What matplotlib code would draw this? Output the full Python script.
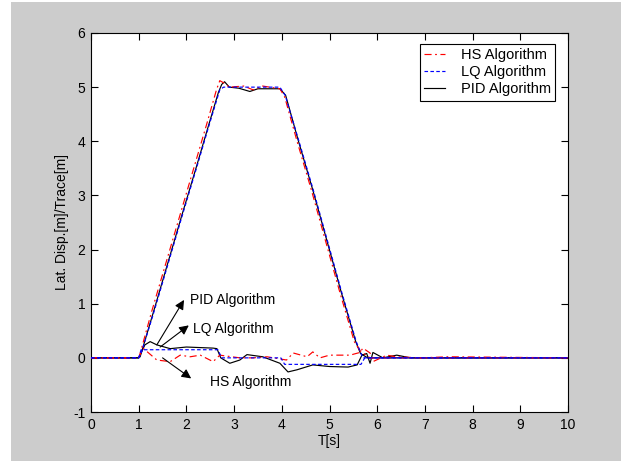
import matplotlib
matplotlib.use("Agg")
import matplotlib.pyplot as plt
from matplotlib.patches import Rectangle

plt.rcParams['font.family'] = ['Liberation Sans', 'DejaVu Sans']
plt.rcParams['axes.unicode_minus'] = False

# Lateral displacement curves
t_pid = [0, 1.0, 1.03, 1.3, 1.6, 1.9, 2.2, 2.45, 2.67, 2.74, 2.8, 2.9, 3.1, 3.33, 3.5, 3.96, 4.08, 4.35, 4.65, 4.95, 5.25, 5.55, 5.65, 5.8, 10.0]
pid_disp = [0, 0, 0.02, 0.82, 1.72, 2.62, 3.5, 4.25, 4.9, 5.05, 5.1, 5.0, 4.98, 4.92, 4.97, 4.97, 4.85, 4.0, 3.1, 2.15, 1.2, 0.3, 0.08, 0.0, 0.0]
t_lq = [0, 1.0, 1.05, 1.31, 1.61, 1.91, 2.21, 2.46, 2.7, 2.78, 3.96, 4.07, 4.36, 4.66, 4.96, 5.26, 5.56, 5.7, 10.0]
lq_disp = [0, 0, 0.08, 0.82, 1.72, 2.62, 3.5, 4.25, 4.95, 5.0, 5.0, 4.85, 4.0, 3.1, 2.15, 1.2, 0.3, 0.0, 0.0]
t_hs = [0, 1.0, 1.02, 1.27, 1.57, 1.87, 2.17, 2.42, 2.63, 2.7, 2.78, 2.9, 3.2, 3.4, 3.6, 3.96, 4.06, 4.32, 4.62, 4.92, 5.22, 5.52, 5.65, 5.85, 10.0]
hs_disp = [0, 0, 0.05, 0.85, 1.75, 2.65, 3.55, 4.3, 4.95, 5.12, 5.08, 5.0, 5.02, 4.95, 5.02, 4.97, 4.82, 4.0, 3.1, 2.15, 1.2, 0.3, 0.12, 0.0, 0.0]

# Tracking errors
t_pid_err = [0, 1.0, 1.13, 1.24, 1.38, 1.66, 2.0, 2.56, 2.64, 2.72, 2.91, 3.12, 3.27, 3.6, 3.96, 4.13, 4.32, 4.65, 5.0, 5.39, 5.58, 5.68, 5.78, 5.85, 5.91, 6.12, 6.41, 6.7, 10.0]
pid_err = [0, 0, 0.24, 0.3, 0.24, 0.17, 0.2, 0.18, 0.17, 0.0, -0.1, -0.04, 0.06, 0.02, -0.1, -0.26, -0.22, -0.13, -0.16, -0.17, -0.13, 0.05, 0.08, -0.1, 0.1, 0.0, 0.05, 0.0, 0.0]
t_lq_err = [0, 1.0, 1.05, 2.66, 2.74, 3.98, 4.06, 5.66, 5.74, 10.0]
lq_err = [0, 0, 0.15, 0.15, 0.0, 0.0, -0.12, -0.12, 0.0, 0.0]
t_hs_err = [0, 1.0, 1.09, 1.38, 1.66, 1.87, 2.08, 2.29, 2.56, 2.7, 3.12, 3.4, 3.69, 4.1, 4.24, 4.53, 4.65, 4.8, 5.0, 5.43, 5.64, 5.7, 5.85, 5.91, 6.2, 6.4, 6.9, 7.5, 10.0]
hs_err = [0, 0, 0.18, -0.04, -0.07, 0.05, 0.02, 0.05, -0.07, 0.05, 0.0, 0.0, 0.02, -0.04, 0.09, 0.02, 0.11, 0.0, 0.05, 0.05, 0.1, 0.18, 0.09, -0.07, 0.05, 0.02, 0.0, 0.02, 0.0]

x_ticks = [0, 1, 2, 3, 4, 5, 6, 7, 8, 9, 10]
y_ticks = [-1, 0, 1, 2, 3, 4, 5, 6]

fig = plt.figure(figsize=(6.21, 4.61), dpi=100)
fig.patch.set_facecolor('white')
fig.patches.append(Rectangle((11 / 621, 0), 1 - 11 / 621, 1 - 2 / 461,
                             transform=fig.transFigure, facecolor='#cccccc',
                             edgecolor='none', zorder=-10))
ax = fig.add_axes([91 / 621, 1 - 412 / 461, (568 - 91) / 621, (412 - 33) / 461])
ax.set_facecolor('white')

red_ls = (0, (6, 3, 1.5, 3))
blue_ls = (0, (3, 2))
lw = 0.85
l1, = ax.plot(t_hs, hs_disp, color='red', ls=red_ls, lw=lw, label='HS Algorithm', zorder=3)
l2, = ax.plot(t_lq, lq_disp, color='blue', ls=blue_ls, lw=lw, label='LQ Algorithm', zorder=4)
l3, = ax.plot(t_pid, pid_disp, color='black', ls='-', lw=lw, label='PID Algorithm', zorder=2)
ax.plot(t_hs_err, hs_err, color='red', ls=red_ls, lw=lw, zorder=3)
ax.plot(t_lq_err, lq_err, color='blue', ls=blue_ls, lw=lw, zorder=4)
ax.plot(t_pid_err, pid_err, color='black', ls='-', lw=lw, zorder=2)

ax.set_xlim(0, 10)
ax.set_ylim(-1, 6)
ax.set_xticks(x_ticks)
ax.set_yticks(y_ticks)
ax.tick_params(direction='in', top=True, right=True, labelsize=10, length=5, pad=4)
ax.set_xlabel('T[s]', fontsize=10, labelpad=2)
ax.set_ylabel('Lat. Disp.[m]/Trace[m]', fontsize=10, labelpad=3)
for s in ax.spines.values():
    s.set_linewidth(0.8)

arrow = dict(arrowstyle='-|>', color='black', lw=0.8, mutation_scale=14,
             shrinkA=0, shrinkB=0)
ax.annotate('', xy=(1.95, 1.07), xytext=(1.38, 0.24), arrowprops=arrow)
ax.annotate('', xy=(2.05, 0.6), xytext=(1.45, 0.2), arrowprops=arrow)
ax.annotate('', xy=(2.1, -0.38), xytext=(1.5, 0.0), arrowprops=arrow)
ax.text(2.08, 1.07, 'PID Algorithm', fontsize=10, ha='left', va='center')
ax.text(2.14, 0.54, 'LQ Algorithm', fontsize=10, ha='left', va='center')
ax.text(2.5, -0.44, 'HS Algorithm', fontsize=10, ha='left', va='center')

leg = ax.legend(handles=[l1, l2, l3], loc='upper right', fontsize=10.5,
                fancybox=False, framealpha=1, edgecolor='black',
                borderpad=0.3, handlelength=1.4, handletextpad=1.1,
                labelspacing=0.2, borderaxespad=0,
                bbox_to_anchor=(0.973, 0.971))
leg.get_frame().set_linewidth(0.8)

fig.savefig('out.png', dpi=100, facecolor=fig.get_facecolor())
